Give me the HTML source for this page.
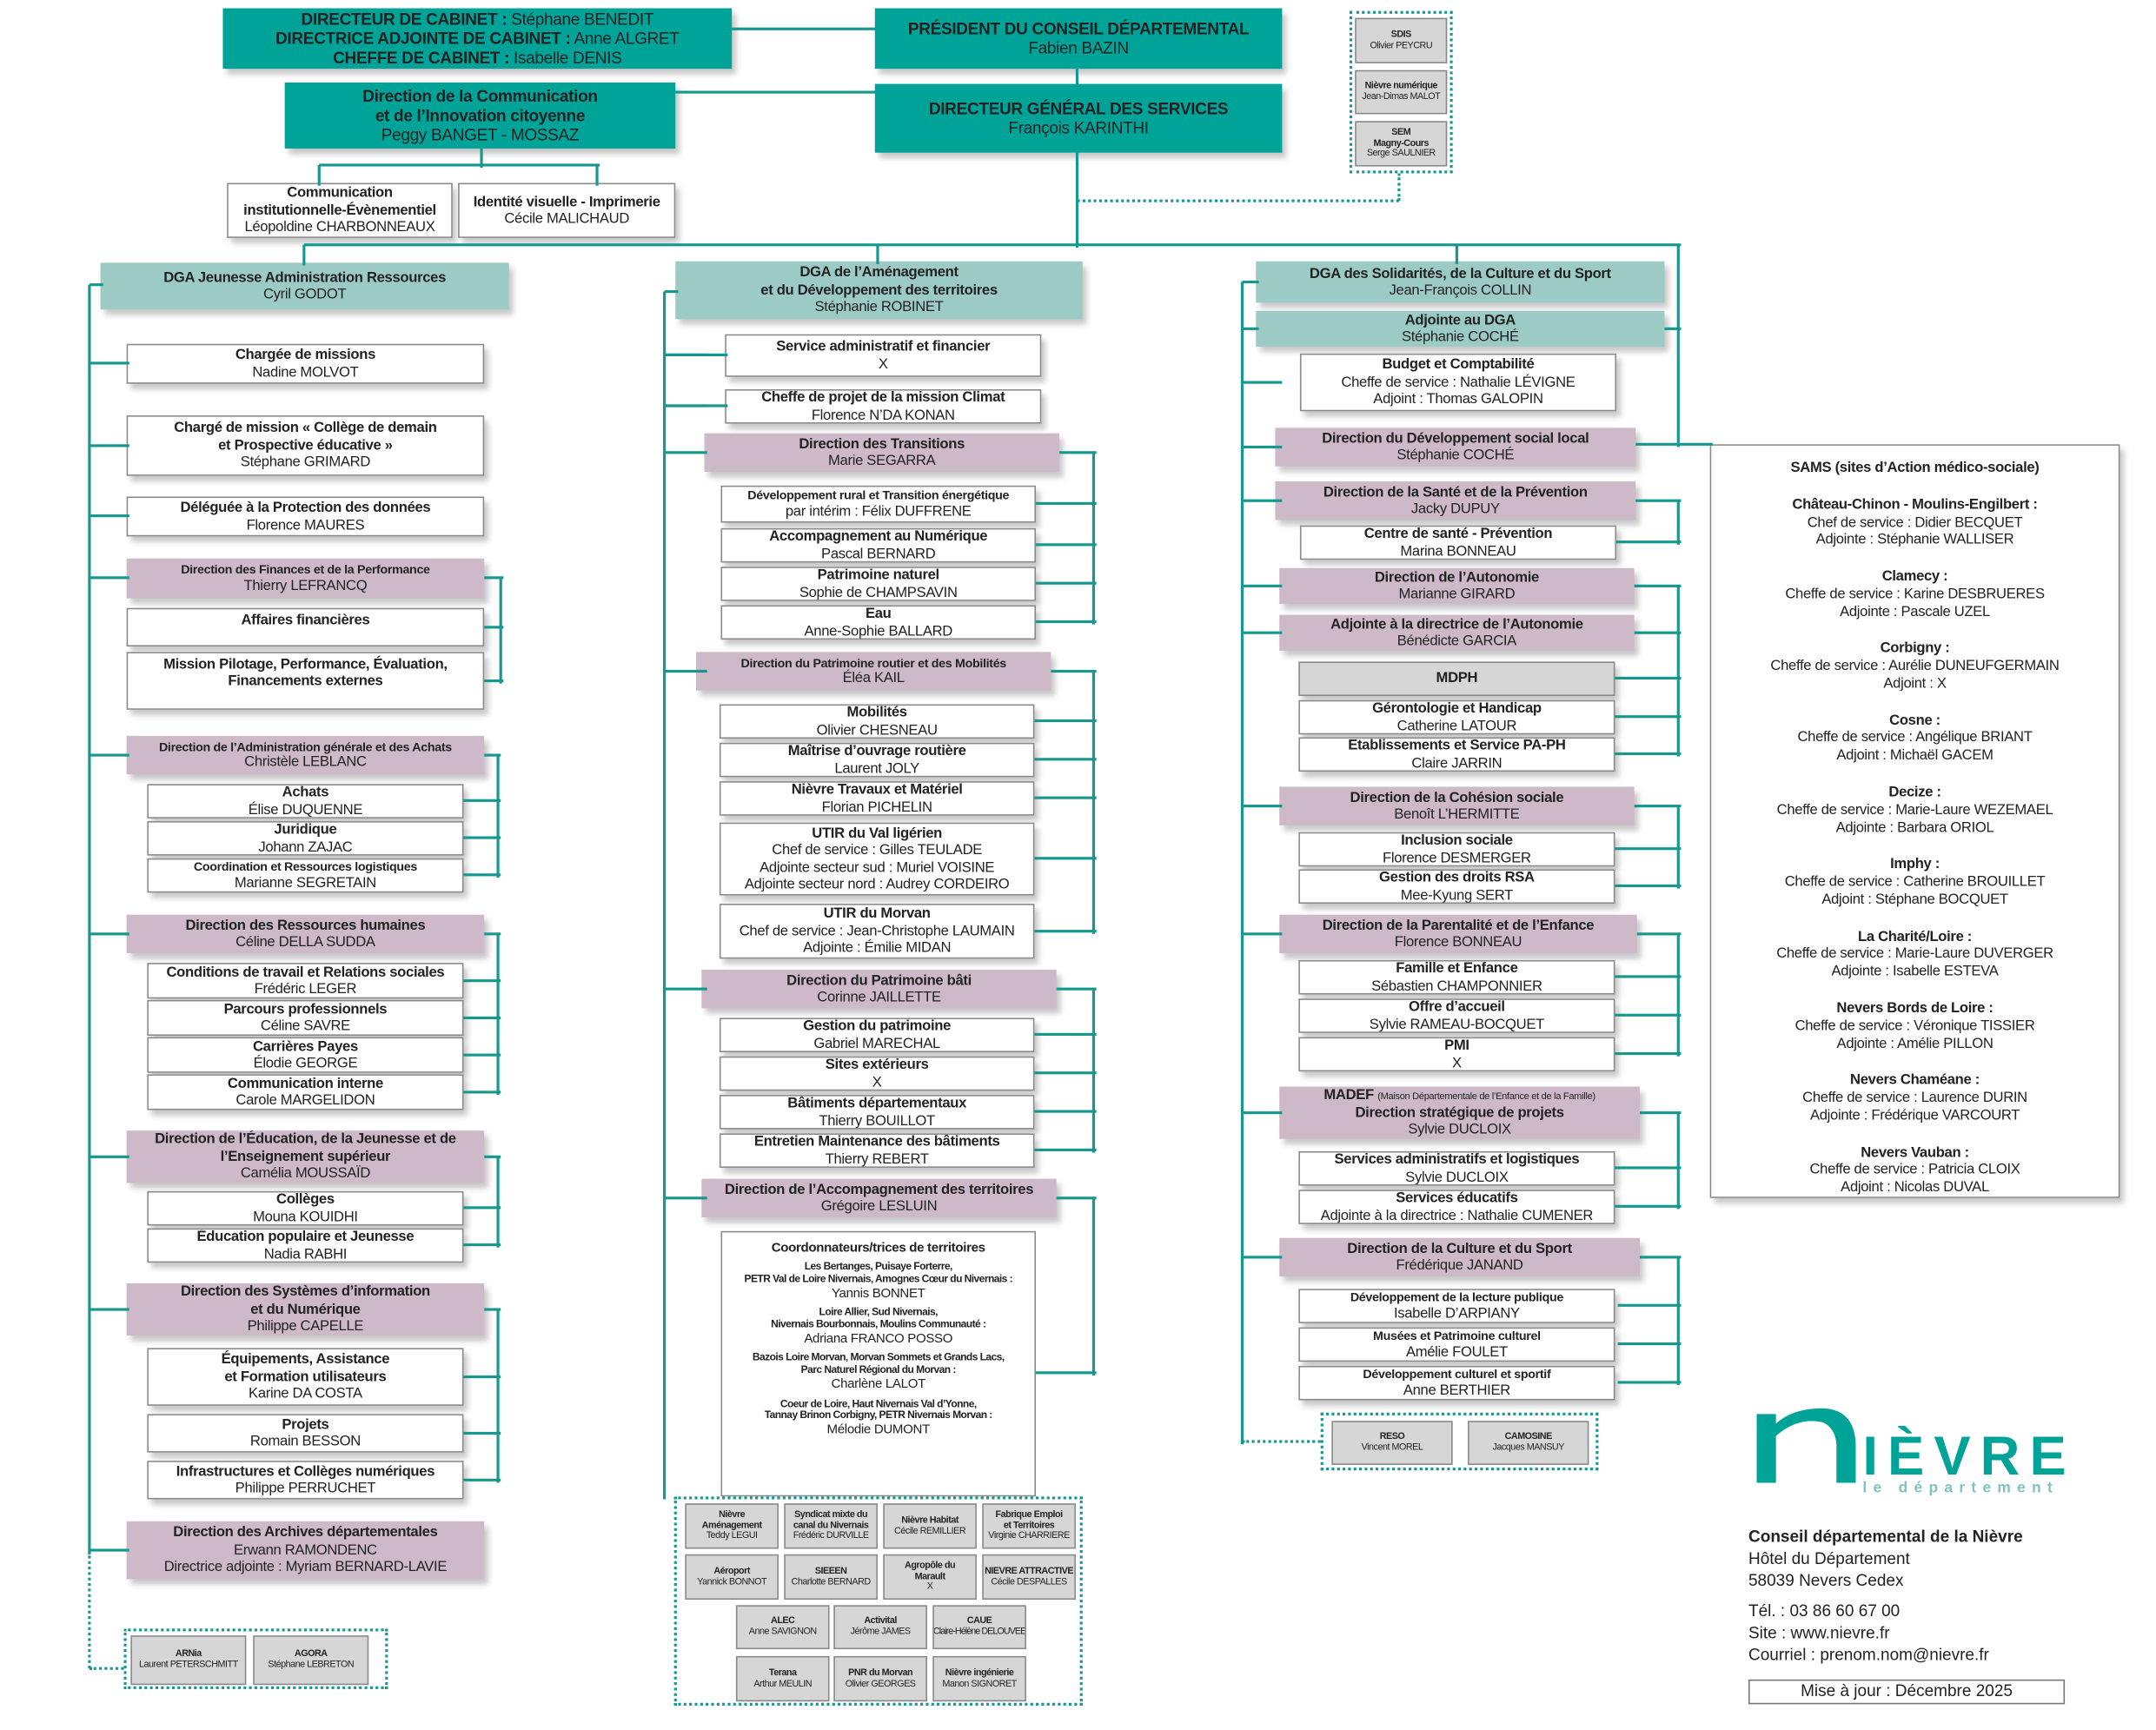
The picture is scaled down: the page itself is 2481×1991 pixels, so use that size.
<!DOCTYPE html>
<html><head><meta charset="utf-8">
<style>
html,body{margin:0;padding:0;background:#fff;}
body{width:2481px;height:1991px;overflow:hidden;position:relative;}
#c{position:absolute;left:0;top:0;width:1568px;height:1258px;transform:scale(1.583);transform-origin:0 0;font-family:"Liberation Sans Narrow","Liberation Sans",sans-serif;color:#222;}
.b{position:absolute;box-sizing:border-box;display:flex;flex-direction:column;justify-content:center;align-items:center;text-align:center;font-size:10.5px;line-height:1.18;box-shadow:3px 4px 4px rgba(0,0,0,.22);overflow:hidden;letter-spacing:-0.2px;}
.t{background:#00a398;font-size:12px;}
.lt{background:#9ccbc6;}
.m{background:#cdb9c8;}
.w{background:#fff;border:1.5px solid #8a8a8a;}
.g{background:#d6d6d6;border:1.5px solid #8a8a8a;font-size:6.8px;line-height:1.12;box-shadow:none;letter-spacing:-0.3px;white-space:nowrap;}
.d{position:absolute;box-sizing:border-box;border:2px dotted #17988e;}
.L{position:absolute;background:#17988e;}
.DL{position:absolute;box-sizing:border-box;}
b{font-weight:bold;}
.s{font-size:9px;}
</style></head><body><div id="c">

<!-- top -->
<div class="b t" style="left:162px;top:6px;width:370px;height:44px;"><div><b>DIRECTEUR DE CABINET :</b> Stéphane BENEDIT</div><div><b>DIRECTRICE ADJOINTE DE CABINET :</b> Anne ALGRET</div><div><b>CHEFFE DE CABINET :</b> Isabelle DENIS</div></div>
<div class="b t" style="left:636px;top:6px;width:296px;height:44px;"><b>PRÉSIDENT DU CONSEIL DÉPARTEMENTAL</b><div>Fabien BAZIN</div></div>
<div class="b t" style="left:636px;top:61px;width:296px;height:50px;"><b>DIRECTEUR GÉNÉRAL DES SERVICES</b><div>François KARINTHI</div></div>
<div class="b t" style="left:207px;top:60px;width:284px;height:48px;"><b>Direction de la Communication<br>et de l’Innovation citoyenne</b><div>Peggy BANGET - MOSSAZ</div></div>
<div class="b w" style="left:165px;top:133px;width:164px;height:40px;"><b>Communication<br>institutionnelle-Évènementiel</b><div>Léopoldine CHARBONNEAUX</div></div>
<div class="b w" style="left:333px;top:133px;width:158px;height:40px;"><b>Identité visuelle - Imprimerie</b><div>Cécile MALICHAUD</div></div>
<div class="d" style="left:981px;top:8px;width:75px;height:118px;"></div>
<div class="b g" style="left:985px;top:13px;width:67px;height:33px;"><b>SDIS</b>Olivier PEYCRU</div>
<div class="b g" style="left:985px;top:51px;width:67px;height:32px;"><b>Nièvre numérique</b>Jean-Dimas MALOT</div>
<div class="b g" style="left:985px;top:88px;width:67px;height:33px;"><b>SEM<br>Magny-Cours</b>Serge SAULNIER</div>

<!-- left column -->
<div class="b lt" style="left:73px;top:191px;width:297px;height:34px;"><b>DGA Jeunesse Administration Ressources</b><div>Cyril GODOT</div></div>
<div class="b w" style="left:92px;top:250px;width:260px;height:29px;"><b>Chargée de missions</b><div>Nadine MOLVOT</div></div>
<div class="b w" style="left:92px;top:302px;width:260px;height:44px;"><b>Chargé de mission « Collège de demain<br>et Prospective éducative »</b><div>Stéphane GRIMARD</div></div>
<div class="b w" style="left:92px;top:361px;width:260px;height:29px;"><b>Déléguée à la Protection des données</b><div>Florence MAURES</div></div>
<div class="b m" style="left:92px;top:406px;width:260px;height:29px;"><b class="s">Direction des Finances et de la Performance</b><div>Thierry LEFRANCQ</div></div>
<div class="b w" style="left:92px;top:442px;width:260px;height:28px;justify-content:flex-start;padding-top:2px;"><b>Affaires financières</b></div>
<div class="b w" style="left:92px;top:474px;width:260px;height:42px;justify-content:flex-start;padding-top:2px;"><b>Mission Pilotage, Performance, Évaluation,<br>Financements externes</b></div>
<div class="b m" style="left:92px;top:535px;width:260px;height:28px;"><b class="s">Direction de l’Administration générale et des Achats</b><div>Christèle LEBLANC</div></div>
<div class="b w" style="left:107px;top:570px;width:230px;height:25px;"><b>Achats</b><div>Élise DUQUENNE</div></div>
<div class="b w" style="left:107px;top:597px;width:230px;height:25px;"><b>Juridique</b><div>Johann ZAJAC</div></div>
<div class="b w" style="left:107px;top:624px;width:230px;height:25px;"><b class="s">Coordination et Ressources logistiques</b><div>Marianne SEGRETAIN</div></div>
<div class="b m" style="left:92px;top:665px;width:260px;height:28px;"><b>Direction des Ressources humaines</b><div>Céline DELLA SUDDA</div></div>
<div class="b w" style="left:107px;top:700px;width:230px;height:26px;"><b>Conditions de travail et Relations sociales</b><div>Frédéric LEGER</div></div>
<div class="b w" style="left:107px;top:727px;width:230px;height:26px;"><b>Parcours professionnels</b><div>Céline SAVRE</div></div>
<div class="b w" style="left:107px;top:754px;width:230px;height:26px;"><b>Carrières Payes</b><div>Élodie GEORGE</div></div>
<div class="b w" style="left:107px;top:781px;width:230px;height:26px;"><b>Communication interne</b><div>Carole MARGELIDON</div></div>
<div class="b m" style="left:92px;top:822px;width:260px;height:38px;"><b>Direction de l’Éducation, de la Jeunesse et de<br>l’Enseignement supérieur</b><div>Camélia MOUSSAÏD</div></div>
<div class="b w" style="left:107px;top:866px;width:230px;height:25px;"><b>Collèges</b><div>Mouna KOUIDHI</div></div>
<div class="b w" style="left:107px;top:893px;width:230px;height:25px;"><b>Éducation populaire et Jeunesse</b><div>Nadia RABHI</div></div>
<div class="b m" style="left:92px;top:933px;width:260px;height:38px;"><b>Direction des Systèmes d’information<br>et du Numérique</b><div>Philippe CAPELLE</div></div>
<div class="b w" style="left:107px;top:980px;width:230px;height:42px;"><b>Équipements, Assistance<br>et Formation utilisateurs</b><div>Karine DA COSTA</div></div>
<div class="b w" style="left:107px;top:1028px;width:230px;height:28px;"><b>Projets</b><div>Romain BESSON</div></div>
<div class="b w" style="left:107px;top:1062px;width:230px;height:28px;"><b>Infrastructures et Collèges numériques</b><div>Philippe PERRUCHET</div></div>
<div class="b m" style="left:92px;top:1106px;width:260px;height:42px;"><b>Direction des Archives départementales</b><div>Erwann RAMONDENC</div><div>Directrice adjointe : Myriam BERNARD-LAVIE</div></div>
<div class="d" style="left:90px;top:1184px;width:192px;height:44px;"></div>
<div class="b g" style="left:95px;top:1189px;width:84px;height:36px;"><b>ARNia</b>Laurent PETERSCHMITT</div>
<div class="b g" style="left:184px;top:1189px;width:84px;height:36px;"><b>AGORA</b>Stéphane LEBRETON</div>

<!-- middle column -->
<div class="b lt" style="left:491px;top:190px;width:296px;height:42px;"><b>DGA de l’Aménagement<br>et du Développement des territoires</b><div>Stéphanie ROBINET</div></div>
<div class="b w" style="left:527px;top:243px;width:230px;height:31px;"><b>Service administratif et financier</b><div>X</div></div>
<div class="b w" style="left:527px;top:283px;width:230px;height:25px;"><b>Cheffe de projet de la mission Climat</b><div>Florence N’DA KONAN</div></div>
<div class="b m" style="left:512px;top:315px;width:258px;height:28px;"><b>Direction des Transitions</b><div>Marie SEGARRA</div></div>
<div class="b w" style="left:524px;top:353px;width:229px;height:27px;"><b class="s">Développement rural et Transition énergétique</b><div>par intérim : Félix DUFFRENE</div></div>
<div class="b w" style="left:524px;top:384px;width:229px;height:25px;"><b>Accompagnement au Numérique</b><div>Pascal BERNARD</div></div>
<div class="b w" style="left:524px;top:412px;width:229px;height:25px;"><b>Patrimoine naturel</b><div>Sophie de CHAMPSAVIN</div></div>
<div class="b w" style="left:524px;top:440px;width:229px;height:25px;"><b>Eau</b><div>Anne-Sophie BALLARD</div></div>
<div class="b m" style="left:506px;top:474px;width:258px;height:28px;"><b class="s">Direction du Patrimoine routier et des Mobilités</b><div>Éléa KAIL</div></div>
<div class="b w" style="left:523px;top:512px;width:229px;height:25px;"><b>Mobilités</b><div>Olivier CHESNEAU</div></div>
<div class="b w" style="left:523px;top:540px;width:229px;height:25px;"><b>Maîtrise d’ouvrage routière</b><div>Laurent JOLY</div></div>
<div class="b w" style="left:523px;top:568px;width:229px;height:25px;"><b>Nièvre Travaux et Matériel</b><div>Florian PICHELIN</div></div>
<div class="b w" style="left:523px;top:598px;width:229px;height:53px;"><b>UTIR du Val ligérien</b><div>Chef de service : Gilles TEULADE</div><div>Adjointe secteur sud : Muriel VOISINE</div><div>Adjointe secteur nord : Audrey CORDEIRO</div></div>
<div class="b w" style="left:523px;top:657px;width:229px;height:40px;"><b>UTIR du Morvan</b><div>Chef de service : Jean-Christophe LAUMAIN</div><div>Adjointe : Émilie MIDAN</div></div>
<div class="b m" style="left:510px;top:705px;width:258px;height:28px;"><b>Direction du Patrimoine bâti</b><div>Corinne JAILLETTE</div></div>
<div class="b w" style="left:523px;top:740px;width:229px;height:25px;"><b>Gestion du patrimoine</b><div>Gabriel MARECHAL</div></div>
<div class="b w" style="left:523px;top:768px;width:229px;height:25px;"><b>Sites extérieurs</b><div>X</div></div>
<div class="b w" style="left:523px;top:796px;width:229px;height:25px;"><b>Bâtiments départementaux</b><div>Thierry BOUILLOT</div></div>
<div class="b w" style="left:523px;top:824px;width:229px;height:25px;"><b>Entretien Maintenance des bâtiments</b><div>Thierry REBERT</div></div>
<div class="b m" style="left:510px;top:857px;width:258px;height:28px;"><b>Direction de l’Accompagnement des territoires</b><div>Grégoire LESLUIN</div></div>
<div class="b w" style="left:524px;top:895px;width:229px;height:193px;font-size:9.5px;justify-content:flex-start;padding-top:6px;box-shadow:none;">
<b>Coordonnateurs/trices de territoires</b>
<div style="font-size:7.6px;margin-top:4px;letter-spacing:-0.35px;white-space:nowrap;"><b>Les Bertanges, Puisaye Forterre,<br>PETR Val de Loire Nivernais, Amognes Cœur du Nivernais :</b></div><div>Yannis BONNET</div>
<div style="font-size:7.6px;margin-top:4px;letter-spacing:-0.35px;white-space:nowrap;"><b>Loire Allier, Sud Nivernais,<br>Nivernais Bourbonnais, Moulins Communauté :</b></div><div>Adriana FRANCO POSSO</div>
<div style="font-size:7.6px;margin-top:4px;letter-spacing:-0.35px;white-space:nowrap;"><b>Bazois Loire Morvan, Morvan Sommets et Grands Lacs,<br>Parc Naturel Régional du Morvan :</b></div><div>Charlène LALOT</div>
<div style="font-size:7.6px;margin-top:4px;letter-spacing:-0.35px;white-space:nowrap;"><b>Coeur de Loire, Haut Nivernais Val d’Yonne,<br>Tannay Brinon Corbigny, PETR Nivernais Morvan :</b></div><div>Mélodie DUMONT</div></div>
<div class="d" style="left:490px;top:1088px;width:297px;height:152px;"></div>
<div class="b g" style="left:498px;top:1093px;width:68px;height:33px;"><b>Nièvre<br>Aménagement</b>Teddy LEGUI</div>
<div class="b g" style="left:570px;top:1093px;width:68px;height:33px;"><b>Syndicat mixte du<br>canal du Nivernais</b>Frédéric DURVILLE</div>
<div class="b g" style="left:642px;top:1093px;width:68px;height:33px;"><b>Nièvre Habitat</b>Cécile REMILLIER</div>
<div class="b g" style="left:714px;top:1093px;width:68px;height:33px;"><b>Fabrique Emploi<br>et Territoires</b>Virginie CHARRIERE</div>
<div class="b g" style="left:498px;top:1130px;width:68px;height:33px;"><b>Aéroport</b>Yannick BONNOT</div>
<div class="b g" style="left:570px;top:1130px;width:68px;height:33px;"><b>SIEEEN</b>Charlotte BERNARD</div>
<div class="b g" style="left:642px;top:1130px;width:68px;height:33px;"><b>Agropôle du<br>Marault</b>X</div>
<div class="b g" style="left:714px;top:1130px;width:68px;height:33px;"><b>NIEVRE ATTRACTIVE</b>Cécile DESPALLES</div>
<div class="b g" style="left:535px;top:1167px;width:68px;height:32px;"><b>ALEC</b>Anne SAVIGNON</div>
<div class="b g" style="left:606px;top:1167px;width:68px;height:32px;"><b>Activital</b>Jérôme JAMES</div>
<div class="b g" style="left:678px;top:1167px;width:68px;height:32px;"><b>CAUE</b><span style="letter-spacing:-0.6px">Claire-Hélène DELOUVEE</span></div>
<div class="b g" style="left:535px;top:1204px;width:68px;height:33px;"><b>Terana</b>Arthur MEULIN</div>
<div class="b g" style="left:606px;top:1204px;width:68px;height:33px;"><b>PNR du Morvan</b>Olivier GEORGES</div>
<div class="b g" style="left:678px;top:1204px;width:68px;height:33px;"><b>Nièvre ingénierie</b>Manon SIGNORET</div>

<!-- right column -->
<div class="b lt" style="left:913px;top:190px;width:297px;height:30px;"><b>DGA des Solidarités, de la Culture et du Sport</b><div>Jean-François COLLIN</div></div>
<div class="b lt" style="left:913px;top:226px;width:297px;height:26px;"><b>Adjointe au DGA</b><div>Stéphanie COCHÉ</div></div>
<div class="b w" style="left:945px;top:257px;width:230px;height:42px;"><b>Budget et Comptabilité</b><div>Cheffe de service : Nathalie LÉVIGNE</div><div>Adjoint : Thomas GALOPIN</div></div>
<div class="b m" style="left:927px;top:311px;width:262px;height:28px;"><b>Direction du Développement social local</b><div>Stéphanie COCHÉ</div></div>
<div class="b m" style="left:927px;top:350px;width:262px;height:28px;"><b>Direction de la Santé et de la Prévention</b><div>Jacky DUPUY</div></div>
<div class="b w" style="left:945px;top:382px;width:230px;height:25px;"><b>Centre de santé - Prévention</b><div>Marina BONNEAU</div></div>
<div class="b m" style="left:930px;top:413px;width:258px;height:26px;"><b>Direction de l’Autonomie</b><div>Marianne GIRARD</div></div>
<div class="b m" style="left:930px;top:447px;width:258px;height:26px;"><b>Adjointe à la directrice de l’Autonomie</b><div>Bénédicte GARCIA</div></div>
<div class="b" style="left:944px;top:481px;width:230px;height:25px;background:#d6d6d6;border:1.5px solid #8a8a8a;"><b>MDPH</b></div>
<div class="b w" style="left:944px;top:509px;width:230px;height:25px;"><b>Gérontologie et Handicap</b><div>Catherine LATOUR</div></div>
<div class="b w" style="left:944px;top:536px;width:230px;height:25px;"><b>Établissements et Service PA-PH</b><div>Claire JARRIN</div></div>
<div class="b m" style="left:930px;top:572px;width:258px;height:28px;"><b>Direction de la Cohésion sociale</b><div>Benoît L’HERMITTE</div></div>
<div class="b w" style="left:944px;top:605px;width:230px;height:25px;"><b>Inclusion sociale</b><div>Florence DESMERGER</div></div>
<div class="b w" style="left:944px;top:632px;width:230px;height:25px;"><b>Gestion des droits RSA</b><div>Mee-Kyung SERT</div></div>
<div class="b m" style="left:930px;top:665px;width:260px;height:28px;"><b>Direction de la Parentalité et de l’Enfance</b><div>Florence BONNEAU</div></div>
<div class="b w" style="left:944px;top:698px;width:230px;height:25px;"><b>Famille et Enfance</b><div>Sébastien CHAMPONNIER</div></div>
<div class="b w" style="left:944px;top:726px;width:230px;height:25px;"><b>Offre d’accueil</b><div>Sylvie RAMEAU-BOCQUET</div></div>
<div class="b w" style="left:944px;top:754px;width:230px;height:25px;"><b>PMI</b><div>X</div></div>
<div class="b m" style="left:930px;top:790px;width:262px;height:38px;"><div style="white-space:nowrap"><b>MADEF</b> <span style="font-size:7px">(Maison Départementale de l’Enfance et de la Famille)</span></div><b>Direction stratégique de projets</b><div>Sylvie DUCLOIX</div></div>
<div class="b w" style="left:944px;top:837px;width:230px;height:25px;"><b>Services administratifs et logistiques</b><div>Sylvie DUCLOIX</div></div>
<div class="b w" style="left:944px;top:865px;width:230px;height:25px;"><b>Services éducatifs</b><div>Adjointe à la directrice : Nathalie CUMENER</div></div>
<div class="b m" style="left:930px;top:900px;width:262px;height:28px;"><b>Direction de la Culture et du Sport</b><div>Frédérique JANAND</div></div>
<div class="b w" style="left:944px;top:937px;width:230px;height:25px;"><b class="s">Développement de la lecture publique</b><div>Isabelle D’ARPIANY</div></div>
<div class="b w" style="left:944px;top:965px;width:230px;height:25px;"><b class="s">Musées et Patrimoine culturel</b><div>Amélie FOULET</div></div>
<div class="b w" style="left:944px;top:993px;width:230px;height:25px;"><b class="s">Développement culturel et sportif</b><div>Anne BERTHIER</div></div>
<div class="d" style="left:960px;top:1027px;width:202px;height:42px;"></div>
<div class="b g" style="left:968px;top:1033px;width:88px;height:32px;"><b>RESO</b>Vincent MOREL</div>
<div class="b g" style="left:1067px;top:1033px;width:88px;height:32px;"><b>CAMOSINE</b>Jacques MANSUY</div>

<div class="b" style="left:1243px;top:323px;width:298px;height:548px;border:1.5px solid #8a8a8a;background:#fff;justify-content:flex-start;padding-top:10px;font-size:10.5px;line-height:1.22;">
<b>SAMS (sites d’Action médico-sociale)</b>
<div style="height:14px"></div><b>Château-Chinon - Moulins-Engilbert :</b><div>Chef de service : Didier BECQUET</div><div>Adjointe : Stéphanie WALLISER</div>
<div style="height:14px"></div><b>Clamecy :</b><div>Cheffe de service : Karine DESBRUERES</div><div>Adjointe : Pascale UZEL</div>
<div style="height:14px"></div><b>Corbigny :</b><div>Cheffe de service : Aurélie DUNEUFGERMAIN</div><div>Adjoint : X</div>
<div style="height:14px"></div><b>Cosne :</b><div>Cheffe de service : Angélique BRIANT</div><div>Adjoint : Michaël GACEM</div>
<div style="height:14px"></div><b>Decize :</b><div>Cheffe de service : Marie-Laure WEZEMAEL</div><div>Adjointe : Barbara ORIOL</div>
<div style="height:14px"></div><b>Imphy :</b><div>Cheffe de service : Catherine BROUILLET</div><div>Adjoint : Stéphane BOCQUET</div>
<div style="height:14px"></div><b>La Charité/Loire :</b><div>Cheffe de service : Marie-Laure DUVERGER</div><div>Adjointe : Isabelle ESTEVA</div>
<div style="height:14px"></div><b>Nevers Bords de Loire :</b><div>Cheffe de service : Véronique TISSIER</div><div>Adjointe : Amélie PILLON</div>
<div style="height:14px"></div><b>Nevers Chaméane :</b><div>Cheffe de service : Laurence DURIN</div><div>Adjointe : Frédérique VARCOURT</div>
<div style="height:14px"></div><b>Nevers Vauban :</b><div>Cheffe de service : Patricia CLOIX</div><div>Adjoint : Nicolas DUVAL</div>
</div>

<!-- logo -->
<svg style="position:absolute;left:1270px;top:1020px" width="240" height="70" viewBox="0 0 240 70">
<path d="M7,8 L7,58 L21,58 L21,24 Q37,10 55,14 Q64,18 65,30 L65,58 L79,58 L79,30 Q78,2 50,4 Q32,5 21,15 L21,8 Z" fill="#00a398"/>
<text x="84" y="52" font-family="Liberation Sans" font-weight="bold" font-size="40" fill="#00a398" letter-spacing="7">IÈVRE</text>
<text x="84" y="65" font-family="Liberation Sans" font-weight="bold" font-size="11" fill="#7fc4bd" letter-spacing="4.6">le département</text>
</svg>
<div style="position:absolute;left:1271px;top:1109px;font-family:'Liberation Sans',sans-serif;font-size:12px;line-height:16px;color:#222;">
<b>Conseil départemental de la Nièvre</b><br>Hôtel du Département<br>58039 Nevers Cedex
<div style="height:6px"></div>Tél. : 03 86 60 67 00<br>Site : www.nievre.fr<br>Courriel : prenom.nom@nievre.fr</div>
<div style="position:absolute;left:1271px;top:1221px;width:230px;height:18px;box-sizing:border-box;border:1.5px solid #777;font-family:'Liberation Sans',sans-serif;font-size:12px;text-align:center;line-height:15px;">Mise à jour : Décembre 2025</div>

<div id="lines"></div>
</div>
<script>
var c=document.getElementById('lines'),W=2;
function h(x1,x2,y){var d=document.createElement('div');d.className='L';d.style.cssText='left:'+Math.min(x1,x2)+'px;top:'+(y-1)+'px;width:'+(Math.abs(x2-x1)+W)+'px;height:'+W+'px';c.appendChild(d);}
function v(x,y1,y2){var d=document.createElement('div');d.className='L';d.style.cssText='left:'+(x-1)+'px;top:'+Math.min(y1,y2)+'px;width:'+W+'px;height:'+(Math.abs(y2-y1)+W)+'px';c.appendChild(d);}
function dh(x1,x2,y){var d=document.createElement('div');d.className='DL';d.style.cssText='left:'+Math.min(x1,x2)+'px;top:'+(y-1)+'px;width:'+Math.abs(x2-x1)+'px;border-top:2px dotted #17988e';c.appendChild(d);}
function dv(x,y1,y2){var d=document.createElement('div');d.className='DL';d.style.cssText='left:'+(x-1)+'px;top:'+Math.min(y1,y2)+'px;height:'+Math.abs(y2-y1)+'px;border-left:2px dotted #17988e';c.appendChild(d);}
h(532,636,21);v(783,50,61);h(491,636,67);v(350,108,120);h(232,434,120);v(232,120,133);v(434,120,133);
v(783,111,178);dh(783,1017,146);dv(1017,126,146);
h(221,1220,178);v(221,178,191);v(638,178,190);v(1059,178,190);v(1220,178,323);
v(65,207,1128);h(65,73,207);dv(65,1128,1213);dh(65,90,1213);
[264,324,375,420,549,679,841,952,1127].forEach(function(y){h(65,92,y);});
function br(hy,hx,bx,subs){h(hx,bx,hy);v(bx,hy,subs[subs.length-1][0]);subs.forEach(function(s){h(s[1],bx,s[0]);});}
br(420,352,364,[[456,352],[495,352]]);
br(549,352,362,[[582,337],[609,337],[636,337]]);
br(679,352,362,[[713,337],[740,337],[767,337],[794,337]]);
br(841,352,362,[[878,337],[905,337]]);
br(952,352,362,[[1001,337],[1042,337],[1076,337]]);
v(483,212,1088);h(483,491,212);
[258,295,329,488,719,871].forEach(function(y){h(483,512,y);});
h(483,527,258);h(483,527,295);
br(329,770,795,[[366,753],[396,753],[424,753],[452,753]]);
br(488,764,795,[[524,752],[552,752],[580,752],[624,752],[677,752]]);
br(719,768,795,[[752,752],[780,752],[808,752],[836,752]]);
br(871,768,795,[[998,753]]);
v(903,205,1048);h(903,913,205);h(903,913,239);dv(903,1048,1050);dh(903,960,1048);
[278,325,364,426,460,586,679,809,914].forEach(function(y){h(903,930,y);});
h(1189,1243,323);h(1210,1220,239);
br(364,1189,1220,[[394,1175]]);
br(426,1188,1220,[[460,1188],[493,1174],[521,1174],[548,1174]]);
br(586,1188,1220,[[617,1174],[644,1174]]);
br(679,1190,1220,[[710,1174],[738,1174],[766,1174]]);
br(809,1192,1220,[[849,1174],[877,1174]]);
br(914,1192,1220,[[949,1176],[977,1176],[1005,1176]]);
</script>
</body></html>
